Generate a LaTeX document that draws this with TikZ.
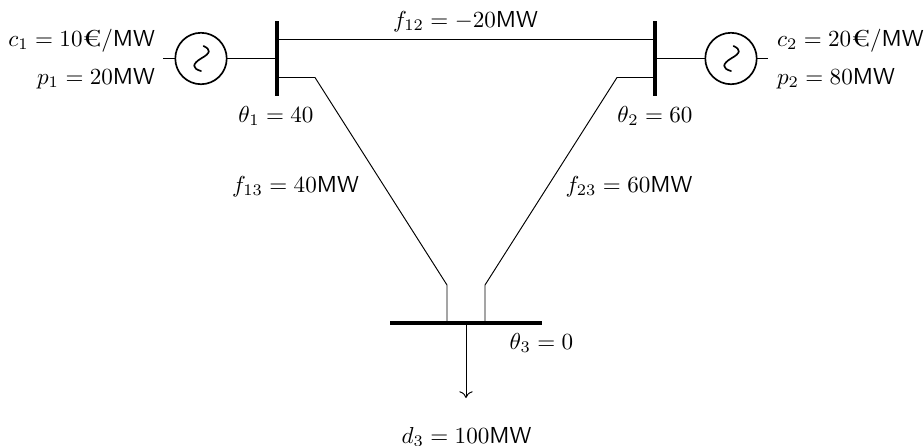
\documentclass[tikz,border=0pt]{standalone}
\usetikzlibrary{arrows.meta}
\tikzset{
  x=0.42pt,y=-0.42pt,
  busbar/.style={fill=black,draw=none,inner sep=0pt,outer sep=0pt,rectangle},
  gen/.style={circle,draw,line width=0.7pt,minimum size=21.6pt,inner sep=0pt,outer sep=0pt},
  wire/.style={line width=0.4pt},
  wave/.style={line width=0.7pt,line cap=round},
  lbl/.style={inner sep=0pt,outer sep=0pt,scale=0.97,transform shape}
}
\newcommand{\MW}{\textsf{MW}}
\newcommand{\EUR}{\scalebox{1.3}[1.0]{\textrm{€}}}
\begin{document}
\begin{tikzpicture}
\useasboundingbox (0,0) rectangle (924,446);
\node[busbar,minimum width=1.8pt,minimum height=31.7pt] (b1) at (277,58.3) {};
\node[busbar,minimum width=1.8pt,minimum height=31.7pt] (b2) at (655,58.3) {};
\node[busbar,minimum width=63.6pt,minimum height=1.8pt] (b3) at (465.8,323) {};
\node[gen] (g1) at (201,58.5) {};
\node[gen] (g2) at (731,58.5) {};
\coordinate (s1) at (163.3,58.5);
\coordinate (s2) at (768,58.5);
\coordinate (a1) at (277,39.5);
\coordinate (a2) at (655,39.5);
\coordinate (c1) at (277,58.5);
\coordinate (c2) at (655,58.5);
\coordinate (l1) at (277,77.5);
\coordinate (l1a) at (315,77.5);
\coordinate (l1b) at (447,285);
\coordinate (l1c) at (447,323);
\coordinate (l2) at (655,77.5);
\coordinate (l2a) at (617,77.5);
\coordinate (l2b) at (485,285);
\coordinate (l2c) at (485,323);
\coordinate (d0) at (466,323);
\coordinate (d1) at (466,398);
\draw[wire] (s1) -- (g1.west);
\draw[wire] (g1.east) -- (c1);
\draw[wire] (c2) -- (g2.west);
\draw[wire] (g2.east) -- (s2);
\draw[wire] (a1) -- (a2);
\draw[wire] (l1) -- (l1a) -- (l1b) -- (l1c);
\draw[wire] (l2) -- (l2a) -- (l2b) -- (l2c);
\draw[wire,-{To[length=2.8pt,width=5.6pt]}] (d0) -- (d1);
\draw[wave,shift={(g1)}] (2.5,-12.5) .. controls (10,-9) and (10,-5.5) .. (0,0) .. controls (-9,5.5) and (-9,10) .. (0,12.5);
\draw[wave,shift={(g2)}] (2.5,-12.5) .. controls (10,-9) and (10,-5.5) .. (0,0) .. controls (-9,5.5) and (-9,10) .. (0,12.5);
\node[lbl,anchor=base east] (t1) at (155,46) {$c_1=10$\EUR$/$\MW};
\node[lbl,anchor=base east] (t2) at (155,84) {$p_1=20$\MW};
\node[lbl,anchor=base west] (t3) at (777,46) {$c_2=20$\EUR$/$\MW};
\node[lbl,anchor=base west] (t4) at (777,84) {$p_2=80$\MW};
\node[lbl,anchor=base] (t5) at (465.5,27) {$f_{12}=-20$\MW};
\node[lbl,anchor=base] (t6) at (276,122) {$\theta_1=40$};
\node[lbl,anchor=base] (t7) at (655,122) {$\theta_2=60$};
\node[lbl,anchor=base] (t8) at (295.5,192) {$f_{13}=40$\MW};
\node[lbl,anchor=base] (t9) at (629,192) {$f_{23}=60$\MW};
\node[lbl,anchor=base] (t10) at (541.5,349) {$\theta_3=0$};
\node[lbl,anchor=base] (t11) at (466.5,443) {$d_3=100$\MW};
\end{tikzpicture}
\end{document}
